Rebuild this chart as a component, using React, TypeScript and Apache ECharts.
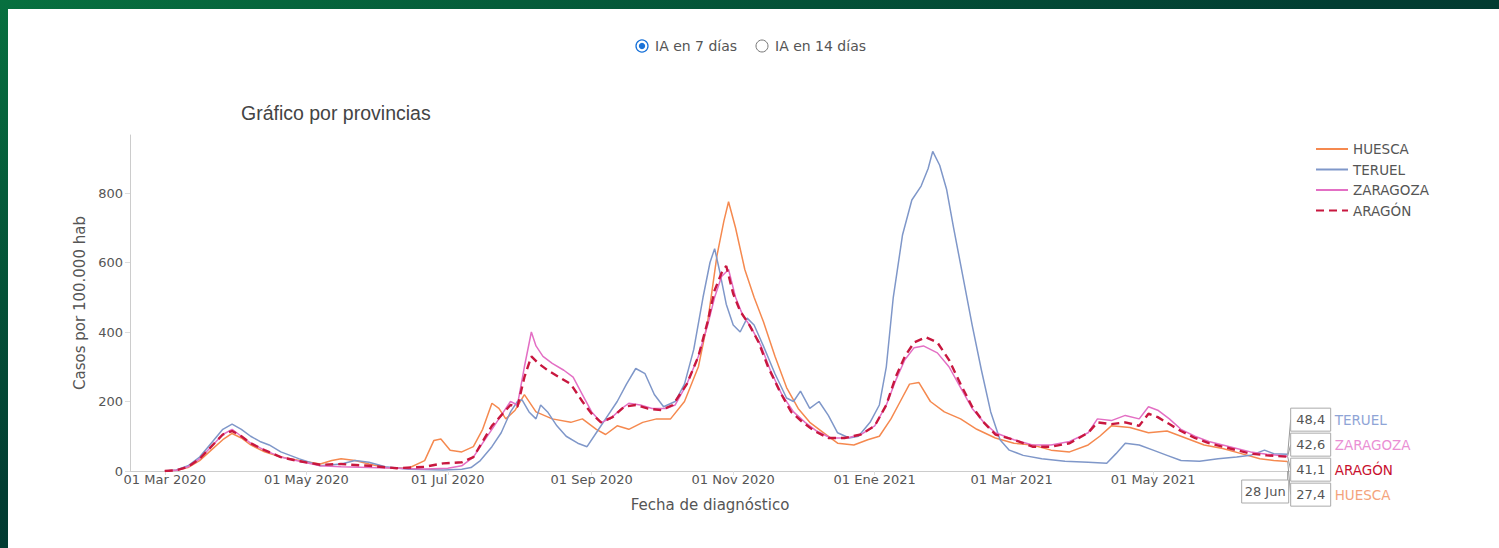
import React, { useEffect, useRef } from "react";
import * as echarts from "echarts";

// Day offsets are counted from 01 Mar 2020
const START_UTC = Date.UTC(2020, 2, 1);
const monthNames = ["Ene", "Feb", "Mar", "Abr", "May", "Jun", "Jul", "Ago", "Sep", "Oct", "Nov", "Dic"];
const tickMonths: [number, number][] = [
  [2020, 2], [2020, 4], [2020, 6], [2020, 8], [2020, 10], [2021, 0], [2021, 2], [2021, 4],
];
const yTicks = [0, 200, 400, 600, 800];

const huescaDays = [0,5,10,15,20,25,29,33,37,43,50,58,67,72,76,82,88,95,105,112,116,119,123,128,133,137,141,144,147,151,155,160,167,175,180,186,190,195,200,206,212,218,224,230,234,238,241,243,246,250,254,258,263,268,273,278,284,290,297,303,308,313,317,321,325,330,336,343,350,358,366,374,382,390,398,403,408,416,424,432,440,448,456,464,472,478,484];
const huescaValues = [0,2,10,30,60,90,108,95,75,55,40,30,20,30,35,30,20,10,8,30,88,92,60,55,70,120,195,180,150,175,220,170,150,140,150,120,105,130,120,140,150,150,200,300,430,620,720,775,700,580,500,430,330,240,180,140,110,80,75,90,100,150,200,250,255,200,170,150,120,95,80,75,60,55,75,100,130,125,110,115,95,75,65,50,35,30,27.4];

const teruelDays = [0,5,10,15,20,25,29,33,37,41,45,50,58,67,76,82,88,95,105,120,128,132,136,141,145,149,152,154,157,160,162,165,169,173,178,182,186,190,195,199,203,207,211,215,220,224,228,232,235,237,239,242,245,248,251,254,258,263,268,271,274,278,282,286,290,295,299,304,308,311,314,318,322,326,329,331,334,337,340,344,348,352,356,360,364,370,378,388,398,406,410,414,420,426,432,438,446,454,462,468,474,478,484];
const teruelValues = [0,3,15,40,80,120,135,120,100,85,75,55,35,15,20,30,25,12,5,3,5,10,30,70,110,170,200,205,170,150,190,170,130,100,80,70,110,150,200,250,295,280,220,185,200,250,350,500,600,640,580,480,420,400,440,420,360,280,210,200,230,180,200,160,110,95,100,140,190,300,500,680,780,820,870,920,880,810,700,560,420,290,170,90,60,45,35,28,25,22,50,80,75,60,45,30,28,35,40,45,60,50,48.4];

const zaragozaDays = [0,5,10,15,20,25,29,33,37,43,50,58,67,76,88,100,112,122,128,133,137,141,145,149,152,155,158,160,163,167,172,176,180,184,188,192,196,200,205,210,216,220,225,230,234,237,240,243,246,249,253,257,261,266,271,276,281,287,294,300,306,311,315,319,323,327,333,338,343,348,353,358,366,374,382,390,398,402,408,414,420,424,428,433,438,444,450,456,462,468,475,484];
const zaragozaValues = [0,2,12,35,70,105,120,100,80,60,40,28,15,12,10,8,6,8,15,40,80,120,160,200,190,300,400,360,330,310,290,270,220,170,140,150,175,195,190,180,180,190,250,330,420,500,560,580,500,450,410,360,290,220,170,140,115,95,95,105,130,190,260,320,355,360,340,300,240,180,140,110,90,75,75,85,110,150,145,160,150,185,175,150,120,100,85,75,65,55,48,42.6];

const aragonDays = [0,5,10,15,20,25,29,33,37,43,50,58,67,76,88,100,112,120,128,133,137,141,145,149,152,155,158,161,165,170,175,180,184,188,193,198,203,208,214,219,225,230,234,237,240,242,245,248,252,256,260,265,270,275,280,286,293,300,306,311,315,319,323,328,333,338,343,348,353,358,366,374,382,390,398,402,408,414,420,424,428,433,438,444,450,456,462,468,475,484];
const aragonValues = [0,2,12,35,70,105,115,100,80,60,40,28,18,20,15,8,12,22,25,40,85,130,160,190,185,270,330,310,290,270,250,200,165,140,155,185,190,180,175,190,250,330,430,520,570,590,510,460,420,370,300,230,170,140,115,95,95,105,130,190,270,330,370,385,370,320,250,185,140,105,90,70,70,80,110,140,135,140,130,165,155,135,115,95,80,70,60,50,45,41.1];

const seriesNames = ["HUESCA", "TERUEL", "ZARAGOZA", "ARAGÓN"];
const seriesColors = ["#f5894f", "#7f97c9", "#e36fc4", "#c8173f"];
const hoverColors = ["#f4a37c", "#8fa4d6", "#ea8fd4", "#c8102e"];

const DAY = 86400000;
const pairs = (days: number[], vals: number[]) => days.map((d, i) => [d, vals[i]]);
const fmtNum = (v: number) => v.toFixed(1).replace(".", ",");

export default function App() {
  const ref = useRef<HTMLDivElement>(null);
  useEffect(() => {
    if (!ref.current) return;
    const chart = echarts.init(ref.current, null, { renderer: "svg" });
    const allDays = [huescaDays, teruelDays, zaragozaDays, aragonDays];
    const allVals = [huescaValues, teruelValues, zaragozaValues, aragonValues];
    const tickDays = tickMonths.map(([y, m]) => Math.round((Date.UTC(y, m, 1) - START_UTC) / DAY));
    const font = "'DejaVu Sans', Verdana, sans-serif";
    const arial = "'Liberation Sans', Arial, sans-serif";

    const baseGraphic: any[] = [
      { type: "circle", shape: { cx: 642, cy: 46, r: 6 }, style: { fill: "#fff", stroke: "#1a73d9", lineWidth: 1.3 } },
      { type: "circle", shape: { cx: 642, cy: 46, r: 3.2 }, style: { fill: "#1a73d9" } },
      { type: "text", x: 655, y: 46, style: { text: "IA en 7 días", fill: "#555", font: `14px ${font}`, verticalAlign: "middle" } },
      { type: "circle", shape: { cx: 762, cy: 46, r: 6 }, style: { fill: "#fff", stroke: "#777", lineWidth: 1 } },
      { type: "text", x: 775, y: 46, style: { text: "IA en 14 días", fill: "#555", font: `14px ${font}`, verticalAlign: "middle" } },
    ];

    const option: any = {
      animation: false,
      backgroundColor: "transparent",
      title: {
        text: "Gráfico por provincias",
        left: 236,
        top: 98,
        textStyle: { fontFamily: arial, fontSize: 19.5, fontWeight: "normal", color: "#444" },
      },
      legend: {
        orient: "vertical",
        left: 1310,
        top: 137,
        itemWidth: 32,
        itemHeight: 14,
        itemGap: 6.5,
        data: seriesNames,
        itemStyle: { opacity: 0 },
        textStyle: { fontFamily: font, fontSize: 13.5, color: "#555" },
      },
      grid: { left: 130, right: 209, top: 135, bottom: 77 },
      xAxis: {
        type: "value",
        min: -15,
        max: 485,
        name: "Fecha de diagnóstico",
        nameLocation: "middle",
        nameGap: 26,
        nameTextStyle: { fontFamily: font, fontSize: 15, color: "#555" },
        axisLine: { show: true, onZero: false, lineStyle: { color: "#ccc", width: 1 } },
        axisTick: { show: true, customValues: tickDays, length: 4, lineStyle: { color: "#ddd" } },
        axisLabel: {
          customValues: tickDays,
          fontFamily: font,
          fontSize: 13,
          color: "#555",
          margin: 2,
          formatter: (v: number) => {
            const d = new Date(START_UTC + v * DAY);
            return `01 ${monthNames[d.getUTCMonth()]} ${d.getUTCFullYear()}`;
          },
        },
        splitLine: { show: false },
      },
      yAxis: {
        type: "value",
        min: 0,
        max: 967,
        name: "Casos por 100.000 hab",
        nameLocation: "middle",
        nameGap: 31,
        nameTextStyle: { fontFamily: font, fontSize: 15, color: "#555" },
        axisLine: { show: true, onZero: false, lineStyle: { color: "#ccc", width: 1 } },
        axisTick: { show: true, customValues: yTicks, length: 5, lineStyle: { color: "#ddd" } },
        axisLabel: { customValues: yTicks, fontFamily: font, fontSize: 13, color: "#555", margin: 7 },
        splitLine: { show: false },
      },
      series: seriesNames.map((name, i) => ({
        name,
        type: "line",
        data: pairs(allDays[i], allVals[i]),
        symbol: "none",
        showSymbol: false,
        smooth: false,
        z: i === 3 ? 5 : 2,
        lineStyle: {
          color: seriesColors[i],
          width: i === 3 ? 2.4 : 1.5,
          type: i === 3 ? [8, 5] : "solid",
        },
        itemStyle: { color: seriesColors[i] },
      })),
      graphic: baseGraphic,
    };
    chart.setOption(option);

    // Hover-style labels at the last date, positioned through the axes
    const pts = seriesNames.map((name, i) => {
      const n = allDays[i].length - 1;
      const d = allDays[i][n];
      const v = allVals[i][n];
      const p = chart.convertToPixel({ gridIndex: 0 }, [d, v]) as number[];
      return { name, i, v, d, x: p[0], y: p[1] };
    });
    const sorted = [...pts].sort((a, b) => b.v - a.v);
    const meanY = pts.reduce((s, p) => s + p.y, 0) / pts.length;
    const gap = 25;
    const hover: any[] = [];
    sorted.forEach((p, k) => {
      const cy = meanY + (k - (sorted.length - 1) / 2) * gap;
      const bx = p.x + 3;
      hover.push({ type: "line", shape: { x1: p.x, y1: p.y, x2: bx, y2: cy }, style: { stroke: "#999", lineWidth: 1 }, z: 50 });
      hover.push({ type: "rect", shape: { x: bx, y: cy - 11.5, width: 40, height: 23 }, style: { fill: "#fff", stroke: "#aaa", lineWidth: 1 }, z: 51 });
      hover.push({ type: "text", x: bx + 20, y: cy, style: { text: fmtNum(p.v), fill: "#555", font: `13px ${font}`, align: "center", verticalAlign: "middle" }, z: 52 });
      hover.push({ type: "text", x: bx + 44, y: cy, style: { text: p.name, fill: hoverColors[p.i], font: `13.5px ${font}`, verticalAlign: "middle" }, z: 52 });
    });
    const lastDay = pts[0].d;
    const base = chart.convertToPixel({ gridIndex: 0 }, [lastDay, 0]) as number[];
    const lastDate = new Date(START_UTC + lastDay * DAY);
    const lastLabel = `${lastDate.getUTCDate()} ${monthNames[lastDate.getUTCMonth()]}`;
    hover.push({ type: "line", shape: { x1: base[0], y1: base[1], x2: base[0], y2: base[1] + 9 }, style: { stroke: "#999", lineWidth: 1 }, z: 50 });
    hover.push({ type: "rect", shape: { x: base[0] - 46, y: base[1] + 9, width: 47, height: 23 }, style: { fill: "#fff", stroke: "#aaa", lineWidth: 1 }, z: 51 });
    hover.push({ type: "text", x: base[0] - 22.5, y: base[1] + 20.5, style: { text: lastLabel, fill: "#555", font: `13px ${font}`, align: "center", verticalAlign: "middle" }, z: 52 });

    chart.setOption({ graphic: [...baseGraphic, ...hover] }, { replaceMerge: ["graphic"] });

    return () => chart.dispose();
  }, []);

  return (
    <div
      style={{
        position: "fixed",
        left: 0,
        top: 0,
        width: 1499,
        height: 548,
        background: "linear-gradient(to bottom right, #07703f 0%, #023d32 45%, #02262a 100%)",
      }}
    >
      <div style={{ position: "absolute", left: 8, top: 9, right: 0, bottom: 0, background: "#fff" }} />
      <div ref={ref} style={{ position: "absolute", left: 0, top: 0, width: 1499, height: 548 }} />
    </div>
  );
}
